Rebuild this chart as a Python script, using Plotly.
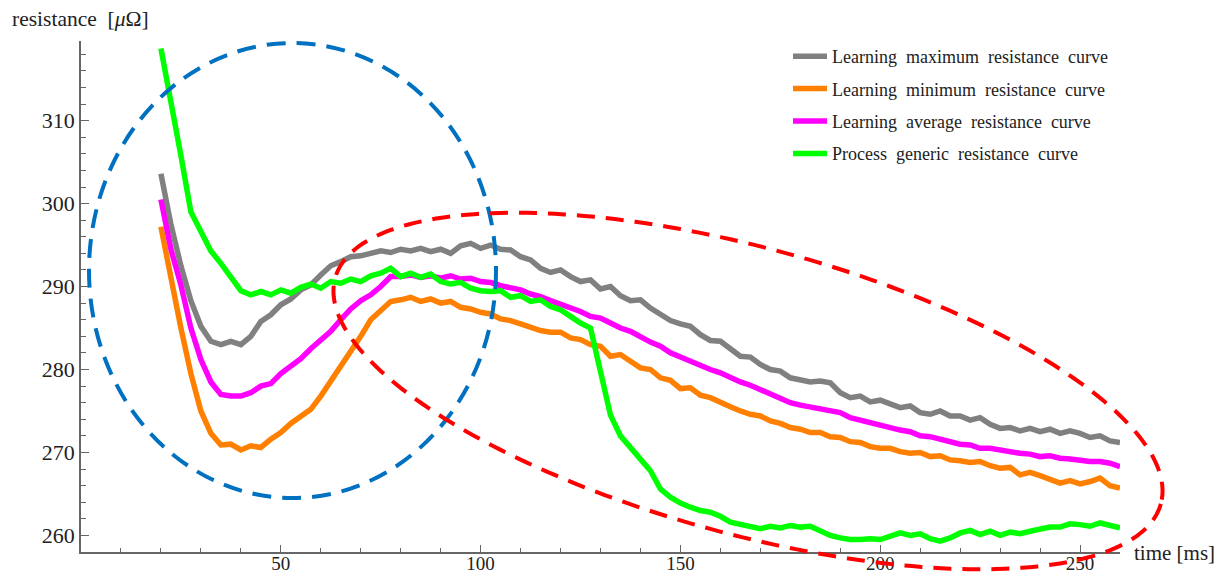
import numpy as np
import plotly.graph_objects as go

# ---------------- data ----------------
time_ms = [20 + 2.5 * i for i in range(97)]

max_curve = [
    303.6, 297.5, 292.5, 288.3, 285.2, 283.4, 283.0, 283.4, 283.0, 284.0,
    285.8, 286.6, 287.8, 288.5, 289.6, 290.2, 291.4, 292.5, 293.0, 293.6,
    293.7, 294.0, 294.3, 294.1, 294.5, 294.3, 294.6, 294.2, 294.5, 294.0,
    294.9, 295.2, 294.6, 295.0, 294.5, 294.4, 293.6, 293.2, 292.2, 291.7,
    292.0, 291.2, 290.6, 290.8, 289.7, 290.0, 288.9, 288.3, 288.4, 287.4,
    286.6, 285.9, 285.5, 285.2, 284.2, 283.5, 283.4, 282.5, 281.6, 281.5,
    280.6, 280.0, 279.8, 279.0, 278.7, 278.5, 278.6, 278.4, 277.2, 276.6,
    276.8, 276.1, 276.3, 275.8, 275.4, 275.6, 274.8, 274.6, 275.0, 274.4,
    274.4, 273.9, 274.2, 273.4, 272.9, 273.0, 272.6, 272.9, 272.5, 272.8,
    272.3, 272.6, 272.3, 271.8, 272.0, 271.4, 271.2,
]

min_curve = [
    297.2, 291.0, 285.0, 279.5, 275.0, 272.3, 270.9, 271.0, 270.3, 270.8,
    270.6, 271.6, 272.4, 273.5, 274.4, 275.2, 276.8, 278.6, 280.2, 282.0,
    284.0, 286.0, 287.2, 288.2, 288.4, 288.7, 288.2, 288.5, 288.0, 288.2,
    287.5, 287.3, 286.9, 286.7, 286.1, 285.9, 285.5, 285.1, 284.7, 284.5,
    284.5, 283.8, 283.6, 283.0, 282.8, 281.6, 281.8, 281.0, 280.2, 280.0,
    279.0, 278.7, 277.7, 277.8, 276.9, 276.6, 276.0, 275.5, 275.0, 274.6,
    274.4, 273.8, 273.5, 273.0, 272.8, 272.4, 272.4, 271.9, 271.8, 271.3,
    271.2, 270.7, 270.5, 270.5, 270.1, 269.9, 270.0, 269.5, 269.6, 269.1,
    269.0, 268.8, 268.9, 268.4, 268.1, 268.2, 267.3, 267.6, 267.2, 266.8,
    266.3, 266.6, 266.2, 266.5, 266.9, 266.0, 265.7,
]

avg_curve = [
    300.5, 294.5, 290.2, 285.0, 281.2, 278.5, 277.0, 276.8, 276.8, 277.2,
    278.0, 278.3, 279.5, 280.4, 281.3, 282.5, 283.6, 284.6, 286.0, 287.3,
    288.3, 289.0, 290.0, 291.2, 291.2, 291.4, 291.1, 291.3, 291.0, 291.3,
    290.9, 291.0, 290.6, 290.5, 290.1, 289.9, 289.6, 289.1, 288.8, 288.3,
    287.9, 287.4, 287.0, 286.4, 286.2, 285.6, 285.0, 284.6, 283.9, 283.3,
    282.8, 282.0, 281.5, 281.0, 280.4, 280.0, 279.6, 279.0, 278.5, 278.1,
    277.6, 277.1, 276.5, 276.0, 275.7, 275.5, 275.3, 275.0, 274.8, 274.2,
    273.9, 273.5, 273.3, 273.0, 272.7, 272.5, 272.0, 271.9, 271.6, 271.4,
    271.0, 270.9, 270.5, 270.5, 270.3, 270.0, 269.9, 269.8, 269.5, 269.6,
    269.3, 269.2, 269.0, 268.9, 268.9, 268.7, 268.3,
]

generic_curve = [
    318.7, 312.5, 305.8, 299.0, 296.8, 294.3, 292.8, 291.2, 289.5, 289.0,
    289.4, 289.0, 289.6, 289.2, 289.9, 290.3, 289.8, 290.6, 290.4, 290.9,
    290.6, 291.3, 291.6, 292.2, 291.2, 291.6, 291.1, 291.5, 290.6, 290.3,
    290.5, 289.8, 289.5, 289.4, 289.5, 288.7, 288.9, 288.2, 288.4, 287.6,
    287.2, 286.4, 285.6, 285.0, 279.5, 274.5, 272.0, 270.5, 269.2, 267.8,
    265.6, 264.6, 263.9, 263.4, 263.0, 262.8, 262.3, 261.6, 261.3, 261.0,
    260.8, 261.1, 260.9, 261.2, 261.0, 261.1, 260.6, 260.0, 259.7, 259.5,
    259.5, 259.6, 259.5, 259.9, 260.3, 260.0, 260.2, 259.6, 259.3, 259.7,
    260.3, 260.6, 260.1, 260.5, 260.0, 260.4, 260.2, 260.5, 260.8, 261.0,
    261.0, 261.4, 261.3, 261.1, 261.5, 261.2, 260.9,
]

series_names = [
    "Learning maximum resistance curve",
    "Learning minimum resistance curve",
    "Learning average resistance curve",
    "Process generic resistance curve",
]
series_values = [max_curve, min_curve, avg_curve, generic_curve]
series_colors = ["#808080", "#FF8000", "#FF00FF", "#00FF00"]

x_ticks = [50, 100, 150, 200, 250]
y_ticks = [260, 270, 280, 290, 300, 310]

# ---------------- layout geometry ----------------
# target pixel positions are given in screen coordinates; the page body
# offsets the figure by OFF pixels, so margins are reduced by that amount.
W, H = 1227, 576
OFF = 8
PL, PR, PT, PB = 81, 1120, 41, 552          # plot area on screen
PW, PH = PR - PL, PB - PT
ML, MT = PL - OFF, PT - OFF
MR, MB = W - ML - PW, H - MT - PH


def px_to_paper(X, Y):
    return (X - PL) / PW, (PB - Y) / PH


FONT = "Liberation Serif, Times New Roman, serif"
TXT = "#222222"
AX = "#666666"
SP = "\u00a0\u00a0"

fig = go.Figure()
for name, vals, col in zip(series_names, series_values, series_colors):
    fig.add_trace(go.Scatter(
        x=time_ms, y=vals, mode="lines", name=name.replace(" ", SP),
        line=dict(color=col, width=5.5), legendgroup=name,
    ))

# ellipses (annotations drawn in pixel geometry, converted to paper)
bx0, by0 = px_to_paper(89, 498)
bx1, by1 = px_to_paper(496, 43)
shapes = [dict(type="circle", xref="paper", yref="paper",
               x0=bx0, y0=by0, x1=bx1, y1=by1,
               line=dict(color="#0070C0", width=4, dash="19px,11px"),
               layer="above")]

cx, cy, ra, rb, th = 748, 391, 428, 143, np.deg2rad(15.3)
tt = np.linspace(0, 2 * np.pi, 241)
ex = cx + ra * np.cos(tt) * np.cos(th) - rb * np.sin(tt) * np.sin(th)
ey = cy + ra * np.cos(tt) * np.sin(th) + rb * np.sin(tt) * np.cos(th)
pts = [px_to_paper(a, b) for a, b in zip(ex, ey)]
path = "M " + " L ".join(f"{a:.5f},{b:.5f}" for a, b in pts) + " Z"
shapes.append(dict(type="path", xref="paper", yref="paper", path=path,
                   line=dict(color="#FF0000", width=4, dash="18px,11px"),
                   layer="above"))

fig.update_layout(
    width=W, height=H,
    margin=dict(l=ML, r=MR, t=MT, b=MB, autoexpand=False),
    paper_bgcolor="white", plot_bgcolor="white",
    font=dict(family=FONT, color=TXT, size=21),
    showlegend=True,
    legend=dict(x=px_to_paper(788, 0)[0], y=px_to_paper(0, 38)[1],
                xanchor="left", yanchor="top",
                bgcolor="rgba(0,0,0,0)", font=dict(size=18, family=FONT, color=TXT),
                tracegroupgap=6, itemwidth=34),
    shapes=shapes,
    xaxis=dict(range=[0, 260], tickvals=x_ticks, ticks="inside", ticklen=7,
               tickcolor=AX, showline=True, linecolor=AX, linewidth=1.5,
               showgrid=False, zeroline=False, automargin=False,
               ticklabelstandoff=-7,
               minor=dict(dtick=10, tick0=0, ticks="inside", ticklen=4, tickcolor=AX),
               tickfont=dict(size=19, family=FONT, color=TXT)),
    yaxis=dict(range=[258, 319.6], tickvals=y_ticks, ticks="inside", ticklen=8,
               tickcolor=AX, showline=True, linecolor=AX, linewidth=1.5,
               showgrid=False, zeroline=False, automargin=False,
               minor=dict(dtick=2, tick0=0, ticks="inside", ticklen=5, tickcolor=AX),
               tickfont=dict(size=22, family=FONT, color=TXT)),
    annotations=[
        dict(text="resistance\u00a0\u00a0[<i>μ</i>Ω]", xref="paper", yref="paper",
             x=px_to_paper(10, 0)[0], y=px_to_paper(0, 19)[1],
             xanchor="left", yanchor="middle", showarrow=False,
             font=dict(size=21.5, family=FONT, color=TXT)),
        dict(text="time [ms]", xref="paper", yref="paper",
             x=px_to_paper(1132, 0)[0], y=px_to_paper(0, 553)[1],
             xanchor="left", yanchor="middle", showarrow=False,
             font=dict(size=21, family=FONT, color=TXT)),
    ],
)

fig.write_html("out.html")
